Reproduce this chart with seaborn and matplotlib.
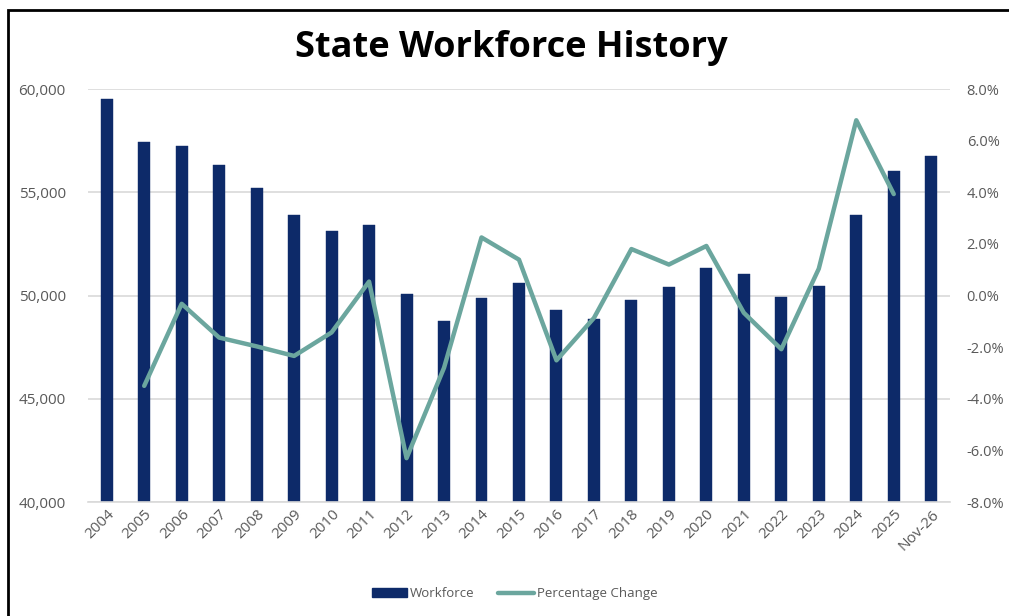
import numpy as np
import matplotlib
matplotlib.use("Agg")
import matplotlib.pyplot as plt
from matplotlib.patches import Patch, Rectangle
from matplotlib.lines import Line2D
from matplotlib.ticker import FuncFormatter, MultipleLocator
import seaborn as sns

# data
years = ["2004", "2005", "2006", "2007", "2008", "2009", "2010", "2011", "2012",
         "2013", "2014", "2015", "2016", "2017", "2018", "2019", "2020", "2021",
         "2022", "2023", "2024", "2025", "Nov-26"]
workforce = [59520, 57440, 57250, 56330, 55200, 53910, 53120, 53400, 50060,
             48790, 49890, 50610, 49310, 48870, 49790, 50390, 51350, 51060,
             49940, 50470, 53900, 56040, 56780]
# percentage change starts at 2005 and ends at 2025
pct_years = years[1:22]
pct_change = [-3.5, -0.32, -1.63, -1.97, -2.34, -1.43, 0.54, -6.30, -2.8,
              2.25, 1.39, -2.51, -0.87, 1.80, 1.20, 1.92, -0.67, -2.08,
              1.04, 6.79, 3.93]

bar_color = "#0D2A69"
line_color = "#6BA69E"
text_grey = "#595959"

sns.set_style("white")
plt.rcParams["font.family"] = ["Open Sans", "DejaVu Sans"]

fig = plt.figure(figsize=(10.09, 6.16), dpi=100)
ax = fig.add_axes([0.0872, 0.185, 0.8543, 0.6705])

sns.barplot(x=years, y=workforce, color=bar_color, saturation=1, width=0.32,
            edgecolor=bar_color, linewidth=0.3, ax=ax)
ax.set_ylim(40000, 60000)
ax.set_xlim(-0.5, len(years) - 0.5)
ax.yaxis.set_major_locator(MultipleLocator(5000))
ax.yaxis.set_major_formatter(FuncFormatter(lambda v, p: f"{v:,.0f}"))
ax.grid(axis="y", color="#D9D9D9", lw=1.2)
ax.set_axisbelow(True)
for s in ["left", "right", "top"]:
    ax.spines[s].set_visible(False)
ax.spines["bottom"].set_color("#D9D9D9")
ax.spines["bottom"].set_linewidth(1.2)
ax.tick_params(axis="both", length=0, labelsize=11, labelcolor=text_grey)
ax.tick_params(axis="y", pad=16)
ax.set_xlabel("")
ax.set_ylabel("")
plt.setp(ax.get_xticklabels(), rotation=45, ha="right", rotation_mode="anchor")

ax2 = ax.twinx()
xpos = [years.index(y) for y in pct_years]
sns.lineplot(x=xpos, y=pct_change, color=line_color, lw=3.2, ax=ax2)
ax2.set_ylim(-8, 8)
ax2.yaxis.set_major_locator(MultipleLocator(2))
ax2.yaxis.set_major_formatter(FuncFormatter(lambda v, p: f"{v:.1f}%"))
ax2.tick_params(axis="y", length=0, labelsize=10.5, labelcolor=text_grey, pad=12)
ax2.grid(False)
for s in ax2.spines.values():
    s.set_visible(False)
ax2.set_xlim(-0.5, len(years) - 0.5)

fig.text(0.507, 0.922, "State Workforce History", ha="center", va="center",
         fontsize=26, fontweight="bold", color="black")

handles = [Patch(facecolor=bar_color, edgecolor=bar_color),
           Line2D([0], [0], color=line_color, lw=3.2)]
fig.legend(handles, ["Workforce", "Percentage Change"], loc="center",
           bbox_to_anchor=(0.51, 0.036), ncol=2, frameon=False,
           fontsize=9.5, labelcolor=text_grey, handlelength=2.7,
           handleheight=0.6, columnspacing=1.8, handletextpad=0.2)

# outer frame, cut off at right and bottom like the screenshot
fig.add_artist(Rectangle((8 / 1009, -0.2), 1.3, 1.2 - 10 / 616, transform=fig.transFigure,
                         fill=False, lw=2, ec="black"))

fig.savefig("out.png", dpi=100)
